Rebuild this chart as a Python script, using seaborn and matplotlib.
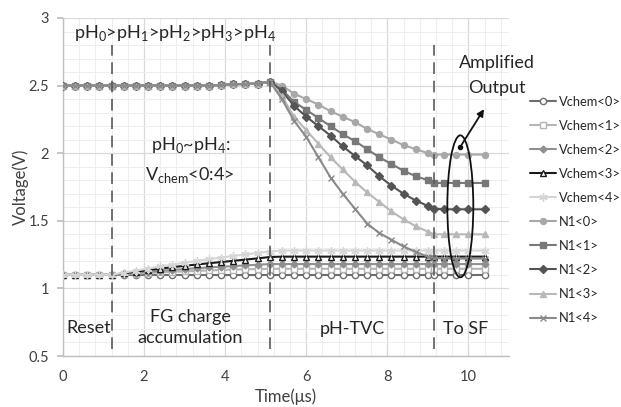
import numpy as np
import pandas as pd
import matplotlib
matplotlib.use("Agg")
import matplotlib.pyplot as plt
from matplotlib.patches import Ellipse
from matplotlib.ticker import MultipleLocator
import seaborn as sns

# ---------------- data ----------------
time_us = [0, 0.3, 0.6, 0.9, 1.2, 1.5, 1.8, 2.1, 2.4, 2.7, 3.0, 3.3, 3.6, 3.9, 4.2, 4.5,
           4.8, 5.1, 5.4, 5.7, 6.0, 6.3, 6.6, 6.9, 7.2, 7.5, 7.8, 8.1, 8.4, 8.7, 9.0, 9.15,
           9.4, 9.7, 10.0, 10.4]

vchem0 = [1.10] * 36
vchem1 = [1.10, 1.10, 1.10, 1.10, 1.100, 1.105, 1.110, 1.114, 1.118, 1.122, 1.126, 1.130,
          1.133, 1.136, 1.139, 1.141, 1.143, 1.145] + [1.145] * 18
vchem2 = [1.10, 1.10, 1.10, 1.10, 1.100, 1.108, 1.116, 1.123, 1.130, 1.137, 1.143, 1.149,
          1.155, 1.160, 1.165, 1.170, 1.175, 1.180] + [1.18] * 18
vchem3 = [1.10, 1.10, 1.10, 1.10, 1.100, 1.112, 1.124, 1.135, 1.146, 1.157, 1.167, 1.177,
          1.186, 1.195, 1.204, 1.213, 1.222, 1.232] + [1.235] * 18
vchem4 = [1.10, 1.10, 1.10, 1.10, 1.100, 1.116, 1.132, 1.147, 1.162, 1.176, 1.190, 1.203,
          1.216, 1.228, 1.240, 1.251, 1.262, 1.272] + [1.28] * 18

n1_pre = [2.50, 2.50, 2.50, 2.50, 2.50, 2.50, 2.50, 2.50, 2.50, 2.50, 2.50, 2.50, 2.50,
          2.505, 2.51, 2.512, 2.515]
n1_0 = n1_pre + [2.53, 2.50, 2.44, 2.40, 2.36, 2.31, 2.27, 2.23, 2.18, 2.14, 2.10, 2.06,
                 2.03, 2.00, 1.99, 1.99, 1.99, 1.99, 1.99]
n1_1 = n1_pre + [2.53, 2.47, 2.38, 2.32, 2.26, 2.20, 2.14, 2.09, 2.03, 1.97, 1.92, 1.87,
                 1.83, 1.80, 1.78, 1.78, 1.78, 1.78, 1.78]
n1_2 = n1_pre + [2.53, 2.46, 2.35, 2.27, 2.20, 2.13, 2.05, 1.98, 1.91, 1.83, 1.76, 1.70,
                 1.65, 1.61, 1.59, 1.585, 1.585, 1.585, 1.585]
n1_3 = n1_pre + [2.53, 2.42, 2.27, 2.17, 2.07, 1.97, 1.88, 1.79, 1.71, 1.64, 1.57, 1.51,
                 1.46, 1.42, 1.40, 1.40, 1.40, 1.40, 1.40]
n1_4 = n1_pre + [2.53, 2.40, 2.24, 2.12, 1.97, 1.82, 1.70, 1.59, 1.48, 1.41, 1.36, 1.31,
                 1.27, 1.235, 1.225, 1.22, 1.22, 1.22, 1.22]

series_names = ["Vchem<0>", "Vchem<1>", "Vchem<2>", "Vchem<3>", "Vchem<4>",
                "N1<0>", "N1<1>", "N1<2>", "N1<3>", "N1<4>"]
series_values = [vchem0, vchem1, vchem2, vchem3, vchem4, n1_0, n1_1, n1_2, n1_3, n1_4]

phase_bounds = [1.2, 5.1, 9.15]

# ---------------- style ----------------
sns.set_theme(style="white")
plt.rcParams["font.family"] = ["Lato", "DejaVu Sans"]
plt.rcParams["mathtext.fontset"] = "custom"
plt.rcParams["mathtext.rm"] = "Lato"

styles = {
    "Vchem<0>": dict(color="#6e6e6e", marker="o", mfc="white", ms=4.5, mew=1.0),
    "Vchem<1>": dict(color="#b5b5b5", marker="s", mfc="white", ms=4.0, mew=1.0),
    "Vchem<2>": dict(color="#8f8f8f", marker="D", mfc="#8f8f8f", ms=3.5, mew=1.0),
    "Vchem<3>": dict(color="#1a1a1a", marker="^", mfc="white", ms=4.5, mew=1.0),
    "Vchem<4>": dict(color="#d6d6d6", marker=(6, 2, 0), mfc="#d6d6d6", ms=6, mew=1.0),
    "N1<0>": dict(color="#a8a8a8", marker="o", mfc="#a8a8a8", ms=4.3, mew=1.0),
    "N1<1>": dict(color="#787878", marker="s", mfc="#787878", ms=4.3, mew=1.0),
    "N1<2>": dict(color="#545454", marker="D", mfc="#545454", ms=3.8, mew=1.0),
    "N1<3>": dict(color="#b8b8b8", marker="^", mfc="#b8b8b8", ms=4.8, mew=1.0),
    "N1<4>": dict(color="#8a8a8a", marker="x", mfc="#8a8a8a", ms=4.5, mew=1.0),
}

fig = plt.figure(figsize=(6.21, 4.07), dpi=100)
ax = fig.add_axes([0.1014, 0.1253, 0.7182, 0.8305])

for name, vals in zip(series_names, series_values):
    st = styles[name]
    df = pd.DataFrame({"t": time_us, "v": vals})
    sns.lineplot(data=df, x="t", y="v", ax=ax, color=st["color"], marker=st["marker"],
                 markerfacecolor=st["mfc"], markeredgecolor=st["color"],
                 markersize=st["ms"], markeredgewidth=st["mew"], linewidth=1.5,
                 label=name, zorder=3)

for xb in phase_bounds:
    ax.plot([xb, xb], [0.55, 2.8], color="#5a5a5a", lw=1.2, ls=(0, (7, 4)), zorder=4)

ax.set_xlim(0, 11)
ax.set_ylim(0.5, 3)
ax.xaxis.set_major_locator(MultipleLocator(2))
ax.xaxis.set_minor_locator(MultipleLocator(0.4))
ax.yaxis.set_major_locator(MultipleLocator(0.5))
ax.yaxis.set_minor_locator(MultipleLocator(0.1))
ax.set_xticks([0, 2, 4, 6, 8, 10])
ax.set_xticklabels(["0", "2", "4", "6", "8", "10"])
ax.set_yticks([0.5, 1, 1.5, 2, 2.5, 3])
ax.set_yticklabels(["0.5", "1", "1.5", "2", "2.5", "3"])
ax.grid(which="major", color="#d9d9d9", lw=0.9, zorder=0)
ax.grid(which="minor", color="#eeeeee", lw=0.7, zorder=0)
ax.set_axisbelow(True)
for s in ["top", "right"]:
    ax.spines[s].set_visible(False)
ax.spines["left"].set_color("#bfbfbf")
ax.spines["bottom"].set_color("#bfbfbf")
ax.spines["left"].set_linewidth(1.0)
ax.spines["bottom"].set_linewidth(1.0)
ax.tick_params(axis="y", which="major", length=4, color="#bfbfbf", pad=6,
               labelsize=10.5, labelcolor="#404040", left=True)
ax.tick_params(axis="x", which="major", length=0, pad=10, labelsize=10.5, labelcolor="#404040")
ax.tick_params(which="minor", length=0)
ax.set_xlabel("Time(μs)", fontsize=12, color="#404040", labelpad=3)
ax.set_ylabel("Voltage(V)", fontsize=12, color="#404040", labelpad=0)

txt = dict(color="#262626", ha="center", va="center", fontsize=13)
ax.text(2.77, 2.89, r"pH$_\mathregular{0}$>pH$_\mathregular{1}$>pH$_\mathregular{2}$>pH$_\mathregular{3}$>pH$_\mathregular{4}$", **txt)
ax.text(3.14, 2.06, r"pH$_\mathregular{0}$~pH$_\mathregular{4}$:", **txt)
ax.text(3.14, 1.84, r"V$_\mathregular{chem}$<0:4>", **txt)
ax.text(0.63, 0.71, "Reset", **txt)
ax.text(3.14, 0.785, "FG charge", **txt)
ax.text(3.14, 0.63, "accumulation", **txt)
ax.text(7.14, 0.70, "pH-TVC", **txt)
ax.text(9.93, 0.70, "To SF", **txt)
ax.text(10.69, 2.667, "Amplified", clip_on=False, **txt)
ax.text(10.69, 2.48, "Output", clip_on=False, **txt)

ell = Ellipse((9.80, 1.607), 0.64, 1.05, fill=False, ec="#111111", lw=1.3, zorder=6)
ax.add_patch(ell)
ax.plot([9.80], [2.047], "o", color="#111111", ms=3, zorder=7)
ax.annotate("", xy=(10.42, 2.343), xytext=(9.80, 2.047),
            arrowprops=dict(arrowstyle="-|>", color="#111111", lw=1.3, mutation_scale=10),
            zorder=7, annotation_clip=False)

leg = ax.legend(loc="upper left", bbox_to_anchor=(0.845, 0.777), bbox_transform=fig.transFigure,
                frameon=False, fontsize=9.3, handlelength=2.0, handletextpad=0.25,
                labelspacing=0.93, borderaxespad=0)
for t in leg.get_texts():
    t.set_color("#262626")

fig.savefig("out.png", dpi=100)
